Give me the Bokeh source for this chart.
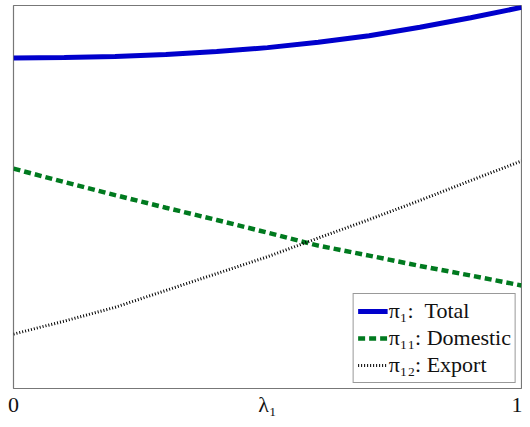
from bokeh.plotting import figure
from bokeh.models import Range1d, FixedTicker
from bokeh.embed import file_html
from bokeh.resources import INLINE

# lambda_1 grid
lam = [0.0, 0.1, 0.2, 0.3, 0.4, 0.5, 0.6, 0.7, 0.8, 0.9, 1.0]
# pi_1: total
total = [0.863, 0.864, 0.867, 0.872, 0.880, 0.890, 0.904, 0.921, 0.943, 0.968, 0.995]
# pi_11: domestic
domestic = [0.574, 0.539, 0.505, 0.472, 0.440, 0.407, 0.373, 0.347, 0.320, 0.295, 0.269]
# pi_12: export
export = [0.142, 0.176, 0.212, 0.256, 0.300, 0.344, 0.393, 0.441, 0.491, 0.543, 0.594]

tick_pos = [0, 0.5, 1]
tick_labels = {0: "0", 0.5: "λ₁", 1: "1"}

labels = ["π₁:\u00a0\u00a0Total", "π₁₁:\u00a0Domestic", "π₁₂:\u00a0Export"]

SERIF = "Liberation Serif"

p = figure(width=522, height=419, output_backend="svg", toolbar_location=None,
           x_range=Range1d(0, 1), y_range=Range1d(0, 1),
           min_border_left=13, min_border_right=1, min_border_top=5, min_border_bottom=27)

p.line(lam, total, line_width=5, color="#0000cc", legend_label=labels[0])
p.line(lam, domestic, line_width=4.5, color="#007a1f", line_dash="7 4", legend_label=labels[1])
p.line(lam, export, line_width=3, color="#000000", line_dash="1 2", legend_label=labels[2])

p.xgrid.visible = False
p.ygrid.visible = False
p.yaxis.visible = False
p.outline_line_color = "#777777"
p.outline_line_width = 1.2

xa = p.xaxis[0]
xa.ticker = FixedTicker(ticks=tick_pos)
xa.major_label_overrides = tick_labels
xa.major_tick_in = 0
xa.major_tick_out = 0
xa.minor_tick_in = 0
xa.minor_tick_out = 0
xa.axis_line_color = None
xa.major_label_standoff = 3
xa.major_label_text_font = SERIF
xa.major_label_text_font_size = "22px"
xa.major_label_text_color = "#111111"

lg = p.legend[0]
lg.location = "bottom_right"
lg.margin = 5
lg.padding = 4
lg.spacing = 1
lg.glyph_width = 30
lg.glyph_height = 26
lg.label_height = 26
lg.label_standoff = 1
lg.label_text_font = SERIF
lg.label_text_font_size = "22px"
lg.label_text_color = "#111111"
lg.border_line_color = "#333333"
lg.border_line_width = 1
lg.background_fill_alpha = 1.0

open("out.html", "w").write(file_html(p, INLINE))
